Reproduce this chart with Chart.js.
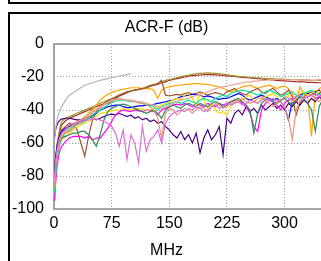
<!DOCTYPE html>
<html><head><meta charset="utf-8">
<script src="https://cdn.jsdelivr.net/npm/chart.js@4.4.1/dist/chart.umd.min.js"></script>
<style>
html,body{margin:0;padding:0;background:#fff;overflow:hidden;width:321px;height:261px;}
#topbox{position:absolute;left:8px;top:-20px;width:400px;height:20px;border:2px solid #000;}
#box{position:absolute;left:8px;top:12px;width:400px;height:300px;border:2px solid #000;}
#wrap{position:absolute;left:10px;top:14px;width:330px;height:247px;}
</style></head>
<body>
<div id="topbox"></div>
<div id="box"></div>
<div id="wrap"><canvas id="c" width="330" height="247"></canvas></div>
<script>
const titleText = "ACR-F (dB)";
const xTitle = "MHz";
const xTicks = [0, 75, 150, 225, 300];
const yTicks = [0, -20, -40, -60, -80, -100];

const xs = [1,2,4,6,8,10,15,20,25,30, 35,40,45,50,55,60,65,70,75,80, 85,90,95,100,105,110,115,120,125,130,
 135,140,145,150,155,160,165,170,175,180, 185,190,195,200,205,210,215,220,225,230,
 235,240,245,250,255,260,265,270,275,280, 285,290,295,300,305,310,315,320,325,330, 335,340,345,350];

const limitX = [1,2,3,5,7,10,15,20,30,40,50,60,70,80,90,100];
const limitY = [-58,-52,-48.5,-44,-41,-38,-34,-31,-28,-25,-23.5,-22,-21,-20,-19,-18];

const darkred = [-88,-76,-64,-57,-52,-49,-46.5,-45,-44,-43, -42,-41,-40,-39,-38,-37,-36.5,-36,-35,-33,
 -31.5,-30.5,-29.5,-28.5,-28,-27.5,-27,-26.5,-25.5,-25, -24.5,-23.5,-23,-22,-21.5,-21,-20.5,-20,-19.5,-19.2,
 -19,-18.8,-18.6,-18.5,-18.6,-18.7,-18.9,-19.1,-19.3,-19.5, -19.7,-20,-20.2,-20.4,-20.6,-20.8,-21,-21.2,-21.4,-21.6,
 -21.8,-22,-22.2,-22.3,-22.5,-22.6,-22.8,-22.9,-23,-23.2, -23.3,-23.4,-23.5,-23.6];
const olive = [-85,-72,-61,-55,-50,-47,-45,-44,-43,-42, -41,-40,-39,-38,-37,-36,-35,-34,-33,-32,
 -31,-30,-29,-28.5,-28,-27.5,-27,-26,-25,-24.5, -24,-23,-22,-21.5,-21,-20.3,-19.8,-19.3,-18.8,-18.4,
 -18,-17.8,-17.6,-17.5,-17.6,-17.8,-18,-18.3,-18.6,-19, -19.3,-19.6,-19.8,-20,-20.2,-20.4,-20.5,-20.6,-20.8,-20.9,
 -21,-21.2,-21.3,-21.4,-21.5,-21.5,-21.6,-21.7,-21.8,-21.9, -22,-22,-22.1,-22.2];
const orange = [-82,-72,-63,-59,-56,-54,-52,-50,-48.5,-47, -46,-44,-42,-40,-37,-34,-32,-30.5,-29.5,-28.5,
 -28,-27.5,-27,-26.5,-26.5,-26.5,-27,-27,-27,-28, -33,-28,-26.5,-26,-25.5,-25,-25,-24.5,-24.5,-24,
 -24,-24,-24.5,-24.5,-25,-25.5,-26,-27,-28,-29, -28,-27,-26,-25.5,-25,-26,-27,-26,-25.5,-25,
 -26,-27,-26,-25.5,-27,-30,-35,-26,-30,-32, -56,-30,-27,-26];
const sienna = [-80,-70,-61,-57,-54,-52,-50,-48,-49,-52, -60,-68,-56,-46,-41,-38,-36,-34.5,-33.5,-32.5,
 -31,-30,-29,-28.5,-28,-27.5,-27,-26.5,-25.5,-25, -24,-22,-31,-31.5,-31,-30.5,-31,-30,-29.5,-30.5,
 -30,-29,-30,-31,-30,-29.5,-30,-31,-29,-28, -27,-29,-30,-31,-29,-28,-27,-29,-30,-28,
 -27,-29,-31,-30,-28,-32,-43,-36,-32,-30, -29,-31,-30,-28];
const blue = [-78,-69,-62,-58,-55,-53,-51,-50,-49,-48, -47,-46,-45,-43.5,-42,-40,-39,-38,-37.5,-37,
 -37,-38,-38.5,-38.5,-38,-37.5,-37.5,-37,-37,-36.5, -36,-35.5,-35,-34.5,-34,-33,-32,-31.5,-31,-30.5,
 -30.5,-31,-32,-31.5,-32,-33,-33.5,-33,-33,-32, -31,-30,-31,-33,-34,-33,-32,-31,-32,-33,
 -34,-33,-35,-38,-46,-35,-32,-31,-30,-30, -31,-29,-28,-29];
const gold = [-88,-78,-68,-63,-60,-58,-56,-54,-52,-50.5, -49,-48,-47,-45.5,-44,-42,-41.5,-41,-40.5,-40,
 -40,-39.5,-39.5,-40,-39.5,-39,-39.5,-40,-40,-39, -38,-37,-36,-35,-34,-33,-34,-31,-30,-33,
 -37,-30,-34,-39,-36,-40,-42,-41,-43,-38, -35,-33,-34,-32,-31,-34,-36,-33,-32,-31,
 -30,-32,-34,-33,-31,-35,-33,-30,-29,-31, -30,-28,-29,-27];
const magenta = [-95,-85,-74,-68,-64,-62,-59,-57,-56,-56, -56,-57,-56,-58,-57,-57,-54,-51,-47,-43,
 -41,-40,-40.5,-41,-40,-40.5,-41,-40,-40,-41, -43,-40,-39,-38,-37,-36.5,-37,-36,-37,-38,
 -36,-37,-38,-36,-37,-38,-36,-37,-36,-35, -34,-34,-36,-38,-42,-50,-53,-40,-36,-34,
 -35,-37,-40,-36,-34,-33,-35,-32,-33,-32, -31,-33,-32,-30];
const springgreen = [-90,-80,-70,-64,-60,-57,-54,-52,-50,-49, -48,-47,-45,-43,-41.5,-40,-38.5,-37,-35.5,-34.5,
 -34,-34,-34.5,-35,-35,-35.5,-36,-36.5,-37,-38, -40,-38,-37,-36,-35.5,-35,-36,-35,-34,-35,
 -36,-34,-33,-34,-35,-33,-32,-31,-32,-30, -29,-28.5,-28,-28.5,-29,-30,-31,-30,-29,-28,
 -29,-30,-32,-31,-30,-29,-31,-33,-30,-29, -28,-30,-31,-29];
const seagreen = [-85,-76,-67,-62,-59,-57,-56,-55,-54,-54, -53,-53,-55,-58,-62,-55,-46,-41,-39,-38,
 -37,-36.5,-37,-38,-39,-40,-41,-42,-41,-40, -42,-45,-40,-38,-37,-38,-39,-37,-36,-37,
 -38,-36,-37,-38,-36,-35,-36,-38,-37,-35, -34,-33,-35,-37,-40,-54,-42,-36,-34,-33,
 -35,-36,-34,-33,-35,-37,-34,-32,-33,-36, -40,-53,-38,-33];
const salmon = [-86,-76,-67,-62,-58,-56,-54,-53,-51,-49, -47.5,-46,-44,-42,-40,-39,-37,-35.5,-34,-33.5,
 -33,-33.5,-34,-34.5,-35,-35.5,-36,-37,-38,-40, -45,-57,-42,-39,-40,-43,-41,-39,-40,-42,
 -40,-38,-39,-41,-38,-36,-37,-39,-38,-36, -35,-34,-33,-35,-36,-35,-33,-32,-34,-36,
 -38,-36,-35,-38,-45,-58,-40,-34,-33,-32, -31,-33,-35,-32];
const lightcoral = [-84,-74,-66,-61,-57,-55,-53,-51,-49,-47.5, -46,-45,-43,-41,-39.5,-38,-36.5,-35.5,-34.5,-34,
 -33.5,-33.5,-34,-34,-34.5,-35,-35,-36,-36.5,-37, -38,-39,-38,-37,-36,-35,-34,-33.5,-33,-32,
 -31,-30.5,-30,-29,-28,-27,-26.5,-26,-25.5,-25, -24.5,-24,-23.5,-23,-23,-22.5,-22.5,-22,-22,-21.5,
 -21.5,-21.5,-21,-21.5,-22,-21.5,-21.5,-22,-22,-21.5, -22,-22,-21.5,-22];
const indigo = [-56,-52,-49,-47,-46,-45.5,-45,-45,-45.5,-46, -46,-45,-44,-45,-46,-45,-44,-43,-42.5,-43,
 -42,-43,-44,-43,-45,-44,-46,-45,-47,-46, -48,-47,-50,-52,-55,-57,-53,-58,-55,-60,
 -54,-66,-57,-52,-58,-55,-50,-67,-45,-48, -42,-40,-43,-38,-41,-39,-42,-37,-40,-38,
 -36,-39,-37,-40,-36,-38,-35,-37,-34,-36, -33,-35,-32,-34];
const orchid = [-82,-72,-64,-59,-56,-54,-52,-49,-48,-47.5, -47,-46.5,-46,-45.5,-45.5,-46,-47,-48,-50,-54,
 -62,-52,-70,-55,-60,-72,-50,-65,-58,-56, -52,-60,-48,-44,-42,-41,-40,-41,-39,-40,
 -38,-39,-41,-40,-38,-37,-39,-38,-36,-37, -36,-35,-37,-36,-34,-35,-36,-34,-33,-34,
 -33,-35,-34,-32,-33,-34,-32,-31,-33,-32, -31,-30,-32,-31];

const seriesList = [
  [orchid, '#da70d6'], [lightcoral, '#f0a090'], [salmon, '#e9967a'], [seagreen, '#2e8b57'],
  [springgreen, '#00e89a'], [gold, '#ffd700'], [magenta, '#ff00ff'], [indigo, '#4b0082'],
  [blue, '#0000ff'], [sienna, '#a0522d'], [orange, '#ffa500'], [olive, '#9a9a30'], [darkred, '#a82828']
];

const datasets = [{
  data: limitX.map((x, i) => ({x, y: limitY[i]})),
  borderColor: '#b4b4b4', borderWidth: 1.2, pointRadius: 0, tension: 0
}];
seriesList.forEach(([arr, col]) => {
  datasets.push({
    data: xs.map((x, i) => ({x, y: arr[i]})),
    borderColor: col, borderWidth: 1.2, pointRadius: 0, tension: 0
  });
});

const frame = {
  id: 'frame',
  beforeDatasetsDraw(chart) {
    const a = chart.chartArea, ctx = chart.ctx;
    ctx.save();
    ctx.strokeStyle = '#8c8c8c';
    ctx.lineWidth = 1.5;
    ctx.strokeRect(a.left, a.top, a.right - a.left, a.bottom - a.top);
    ctx.restore();
  }
};

const FONT = "'Liberation Sans', Arial, sans-serif";
const gridOpts = { color: '#a8a8a8', lineWidth: 1, drawTicks: false, borderDash: [1, 2] };
new Chart(document.getElementById('c'), {
  type: 'line',
  data: { datasets },
  plugins: [frame],
  options: {
    responsive: false, animation: false, devicePixelRatio: 1,
    layout: { padding: { left: 0, right: 17, top: 0, bottom: 0 } },
    plugins: {
      legend: { display: false }, tooltip: { enabled: false },
      title: { display: true, text: titleText, color: '#000', font: { family: FONT, size: 16, weight: 'normal' }, padding: { top: 4.4, bottom: 6.4 } },
      subtitle: { display: true, text: xTitle, position: 'bottom', color: '#000', font: { family: FONT, size: 16, weight: 'normal' }, padding: { top: 0, bottom: 0.4 } }
    },
    scales: {
      x: {
        type: 'linear', min: 0, max: 350,
        afterBuildTicks: s => { s.ticks = xTicks.map(v => ({ value: v })); },
        afterFit: s => { s.height = 32.4; },
        ticks: { color: '#000', font: { family: FONT, size: 16 }, padding: 5, maxRotation: 0, autoSkip: false },
        grid: gridOpts,
        border: { display: false, dash: [1, 2] }
      },
      y: {
        type: 'linear', min: -100, max: 0,
        afterBuildTicks: s => { s.ticks = yTicks.map(v => ({ value: v })); },
        afterFit: s => { s.width = 44; },
        ticks: { color: '#000', font: { family: FONT, size: 16 }, padding: 10 },
        grid: gridOpts,
        border: { display: false, dash: [1, 2] }
      }
    }
  }
});
</script>
</body></html>
